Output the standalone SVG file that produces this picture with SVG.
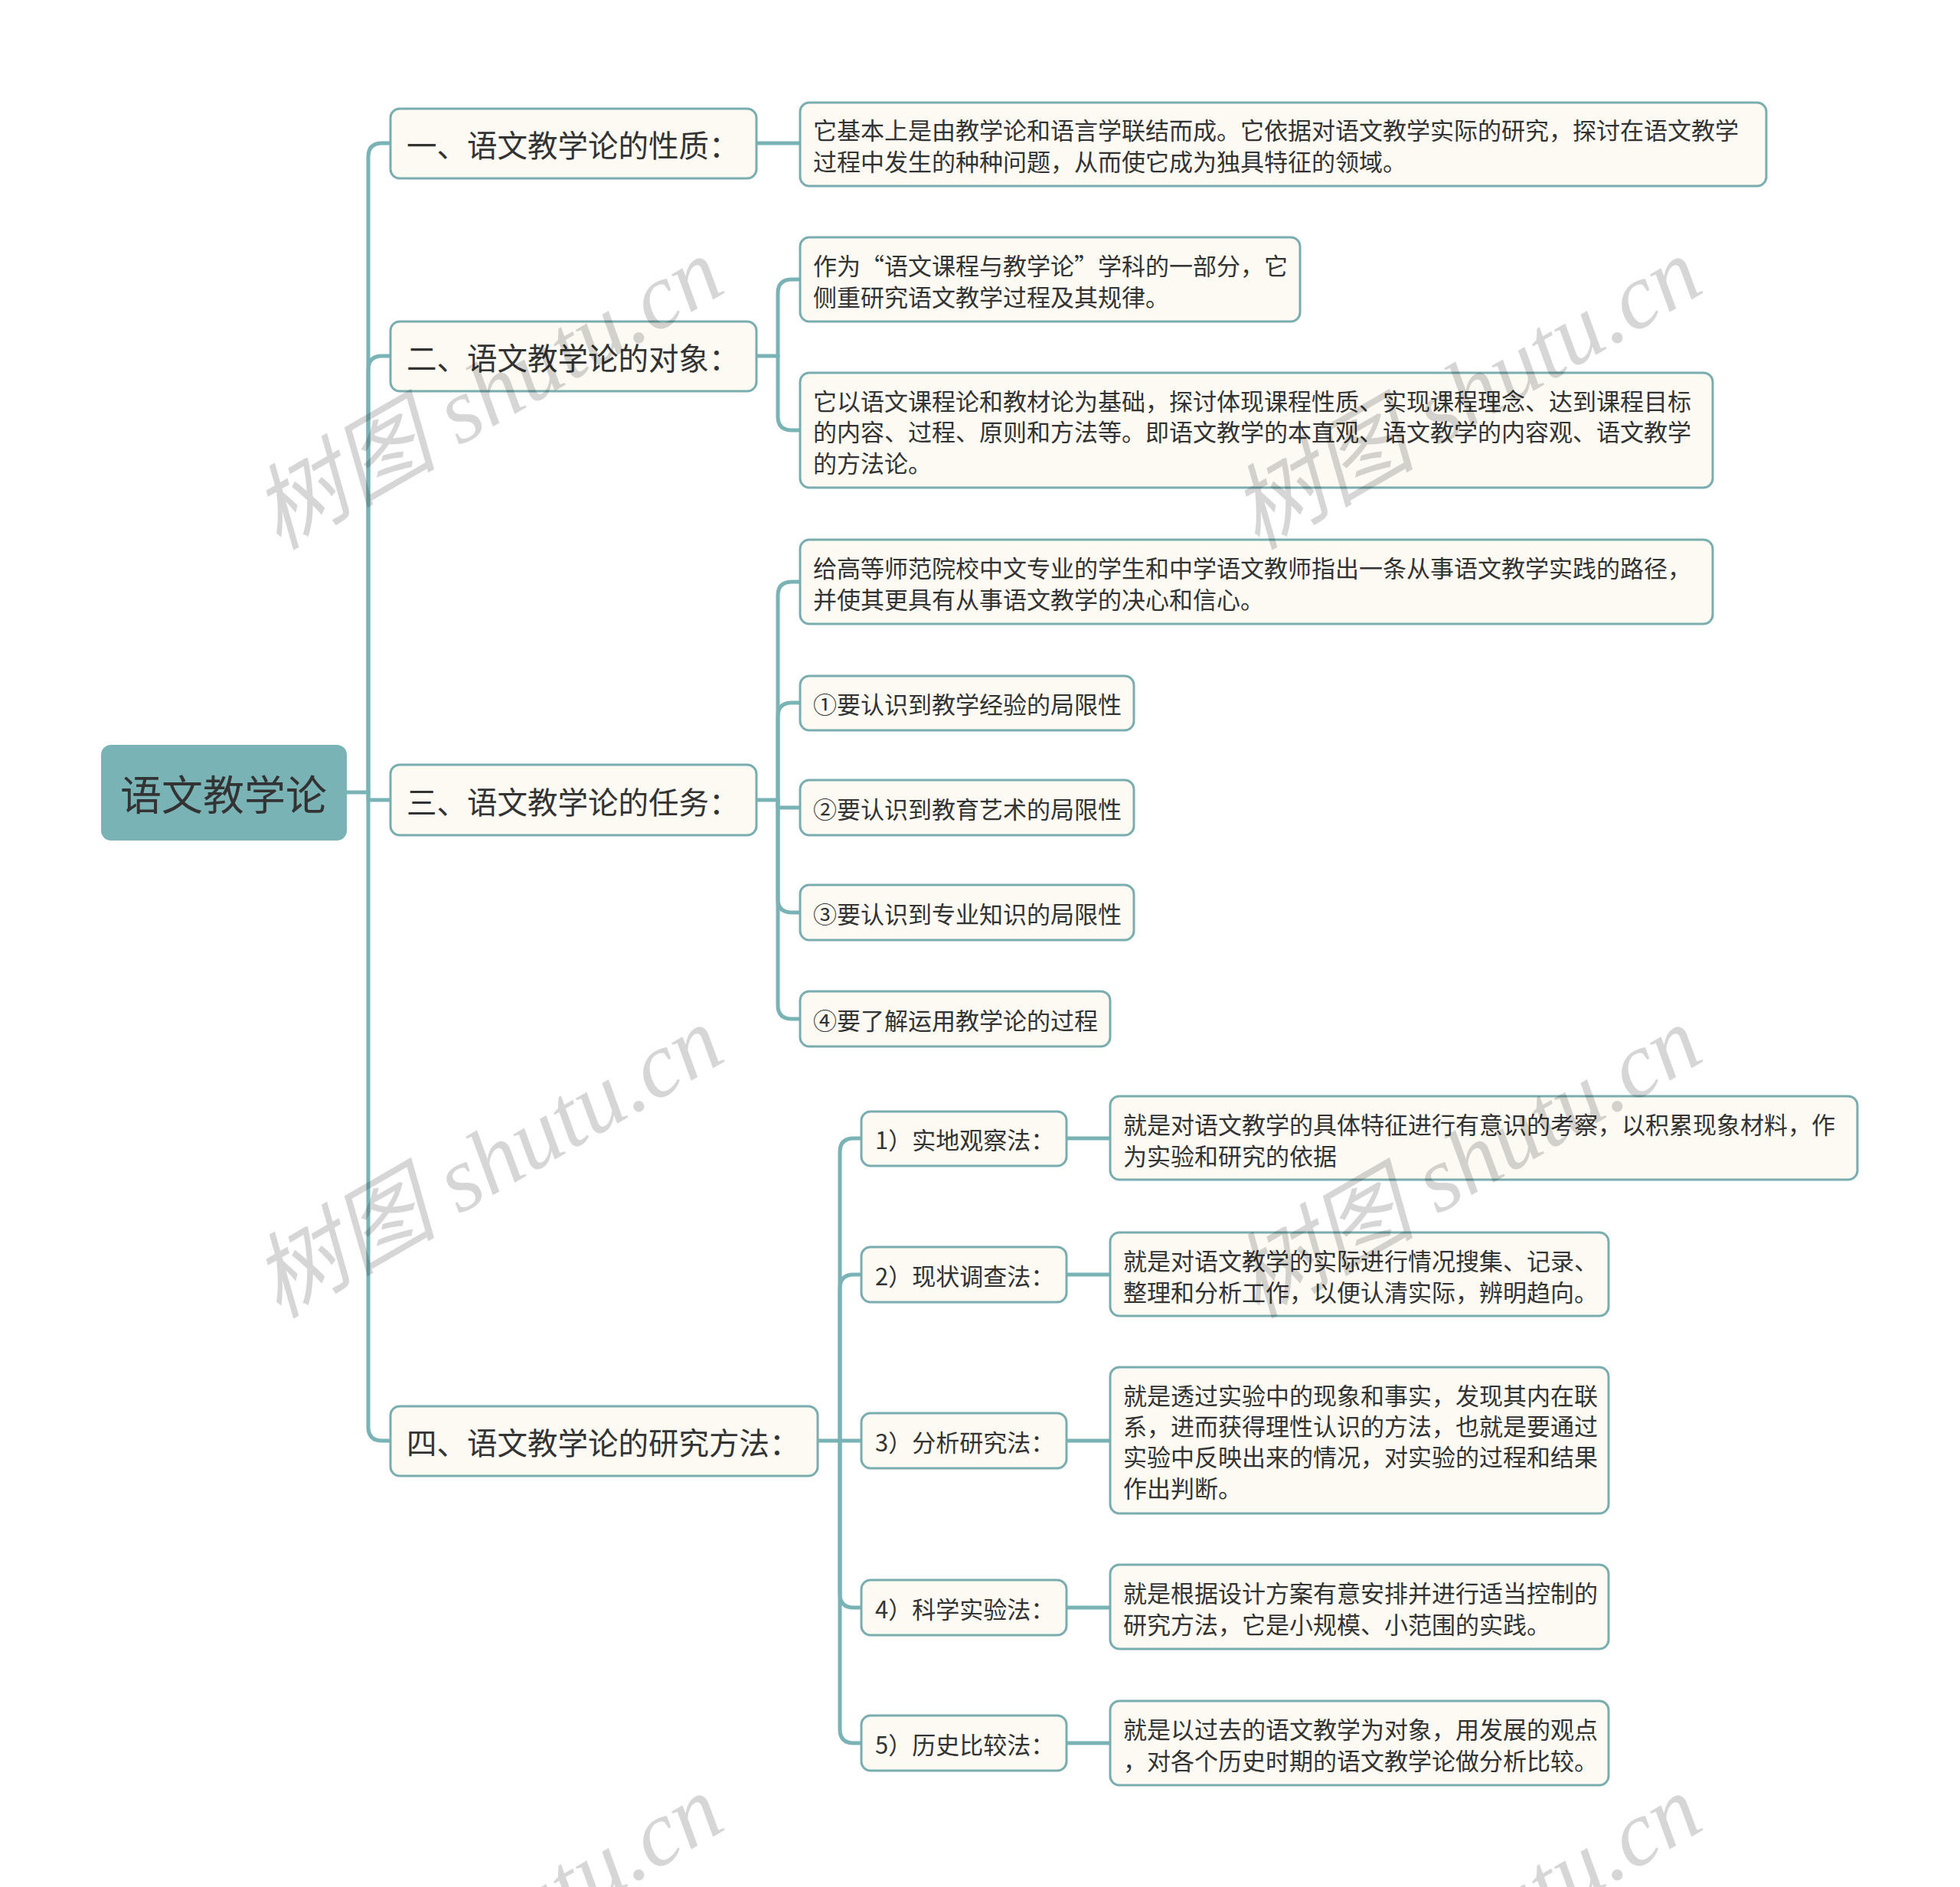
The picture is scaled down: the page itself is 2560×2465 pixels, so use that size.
<svg xmlns="http://www.w3.org/2000/svg" width="2560" height="2465" viewBox="0 0 2560 2465">
<style>
.bx{fill:#fcfaf2;stroke:#7aadb0;stroke-width:3}
.root{fill:#7ab3b5}
.t{font-family:"Noto Sans CJK SC","Noto Sans",sans-serif;fill:#333;dominant-baseline:central}
.t1{font-size:39.5px}
.t2{font-size:31px}
.tr{font-size:54px;text-anchor:middle}
.c{fill:none;stroke:#7ab3b5;stroke-width:5;stroke-linecap:round;stroke-linejoin:round}
.wm{font-family:"Liberation Serif","Noto Sans CJK SC",serif;font-style:italic;font-size:121px;fill:#000;fill-opacity:0.16;text-anchor:middle;dominant-baseline:central}
</style>
<rect width="2560" height="2465" fill="#fff"/>
<g id="connectors">
<path class="c" d="M453 1035 H481"/>
<path class="c" d="M481 1035 V205 Q481 187 499 187 H510"/>
<path class="c" d="M481 1035 V483 Q481 465 499 465 H510"/>
<path class="c" d="M481 1035 V1045 H510"/>
<path class="c" d="M481 1035 V1864 Q481 1882 499 1882 H510"/>
<path class="c" d="M988 187 H1045"/>
<path class="c" d="M988 465 H1016"/>
<path class="c" d="M1016 465 V383 Q1016 365 1034 365 H1045"/>
<path class="c" d="M1016 465 V544 Q1016 562 1034 562 H1045"/>
<path class="c" d="M988 1045 H1016"/>
<path class="c" d="M1016 1045 V778 Q1016 760 1034 760 H1045"/>
<path class="c" d="M1016 1045 V936 Q1016 918 1034 918 H1045"/>
<path class="c" d="M1016 1045 V1055 H1045"/>
<path class="c" d="M1016 1045 V1174 Q1016 1192 1034 1192 H1045"/>
<path class="c" d="M1016 1045 V1313 Q1016 1331 1034 1331 H1045"/>
<path class="c" d="M1068 1882 H1097"/>
<path class="c" d="M1097 1882 V1505 Q1097 1487 1115 1487 H1125"/>
<path class="c" d="M1097 1882 V1683 Q1097 1665 1115 1665 H1125"/>
<path class="c" d="M1097 1882 H1125"/>
<path class="c" d="M1097 1882 V2082 Q1097 2100 1115 2100 H1125"/>
<path class="c" d="M1097 1882 V2259 Q1097 2277 1115 2277 H1125"/>
<path class="c" d="M1393 1487 H1450"/>
<path class="c" d="M1393 1665 H1450"/>
<path class="c" d="M1393 1882 H1450"/>
<path class="c" d="M1393 2100 H1450"/>
<path class="c" d="M1393 2277 H1450"/>
</g>
<g id="root">
<rect class="root" x="132" y="973" width="321" height="125" rx="13"/>
<text class="t tr" x="292" y="1035">语文教学论</text>
</g>
<g id="n1">
<rect class="bx" x="510" y="142" width="478" height="91" rx="12"/>
<text class="t t1" x="531" y="187">一、语文教学论的性质：</text>
</g>
<g id="n1a">
<rect class="bx" x="1045" y="134" width="1262" height="109" rx="12"/>
<text class="t t2" x="1062" y="168">它基本上是由教学论和语言学联结而成。它依据对语文教学实际的研究，探讨在语文教学</text>
<text class="t t2" x="1062" y="209">过程中发生的种种问题，从而使它成为独具特征的领域。</text>
</g>
<g id="n2">
<rect class="bx" x="510" y="420" width="478" height="91" rx="12"/>
<text class="t t1" x="531" y="465">二、语文教学论的对象：</text>
</g>
<g id="n2a">
<rect class="bx" x="1045" y="310" width="653" height="110" rx="12"/>
<text class="t t2" x="1062" y="345">作为“语文课程与教学论”学科的一部分，它</text>
<text class="t t2" x="1062" y="386">侧重研究语文教学过程及其规律。</text>
</g>
<g id="n2b">
<rect class="bx" x="1045" y="487" width="1192" height="150" rx="12"/>
<text class="t t2" x="1062" y="522">它以语文课程论和教材论为基础，探讨体现课程性质、实现课程理念、达到课程目标</text>
<text class="t t2" x="1062" y="562">的内容、过程、原则和方法等。即语文教学的本直观、语文教学的内容观、语文教学</text>
<text class="t t2" x="1062" y="603">的方法论。</text>
</g>
<g id="n3">
<rect class="bx" x="510" y="999" width="478" height="92" rx="12"/>
<text class="t t1" x="531" y="1045">三、语文教学论的任务：</text>
</g>
<g id="n3a">
<rect class="bx" x="1045" y="705" width="1192" height="110" rx="12"/>
<text class="t t2" x="1062" y="740">给高等师范院校中文专业的学生和中学语文教师指出一条从事语文教学实践的路径，</text>
<text class="t t2" x="1062" y="781">并使其更具有从事语文教学的决心和信心。</text>
</g>
<g id="n3b">
<rect class="bx" x="1045" y="883" width="436" height="71" rx="12"/>
<text class="t t2" x="1062" y="918">①要认识到教学经验的局限性</text>
</g>
<g id="n3c">
<rect class="bx" x="1045" y="1019" width="436" height="72" rx="12"/>
<text class="t t2" x="1062" y="1055">②要认识到教育艺术的局限性</text>
</g>
<g id="n3d">
<rect class="bx" x="1045" y="1156" width="436" height="72" rx="12"/>
<text class="t t2" x="1062" y="1192">③要认识到专业知识的局限性</text>
</g>
<g id="n3e">
<rect class="bx" x="1045" y="1295" width="405" height="72" rx="12"/>
<text class="t t2" x="1062" y="1331">④要了解运用教学论的过程</text>
</g>
<g id="n4">
<rect class="bx" x="510" y="1837" width="558" height="91" rx="12"/>
<text class="t t1" x="531" y="1882">四、语文教学论的研究方法：</text>
</g>
<g id="m1">
<rect class="bx" x="1125" y="1452" width="268" height="71" rx="12"/>
<text class="t t2" x="1143" y="1487">1）实地观察法：</text>
</g>
<g id="m1a">
<rect class="bx" x="1450" y="1432" width="976" height="109" rx="12"/>
<text class="t t2" x="1467" y="1467">就是对语文教学的具体特征进行有意识的考察，以积累现象材料，作</text>
<text class="t t2" x="1467" y="1508">为实验和研究的依据</text>
</g>
<g id="m2">
<rect class="bx" x="1125" y="1629" width="268" height="72" rx="12"/>
<text class="t t2" x="1143" y="1665">2）现状调查法：</text>
</g>
<g id="m2a">
<rect class="bx" x="1450" y="1610" width="651" height="109" rx="12"/>
<text class="t t2" x="1467" y="1645">就是对语文教学的实际进行情况搜集、记录、</text>
<text class="t t2" x="1467" y="1686">整理和分析工作，以便认清实际，辨明趋向。</text>
</g>
<g id="m3">
<rect class="bx" x="1125" y="1846" width="268" height="72" rx="12"/>
<text class="t t2" x="1143" y="1882">3）分析研究法：</text>
</g>
<g id="m3a">
<rect class="bx" x="1450" y="1786" width="651" height="191" rx="12"/>
<text class="t t2" x="1467" y="1821">就是透过实验中的现象和事实，发现其内在联</text>
<text class="t t2" x="1467" y="1861">系，进而获得理性认识的方法，也就是要通过</text>
<text class="t t2" x="1467" y="1901">实验中反映出来的情况，对实验的过程和结果</text>
<text class="t t2" x="1467" y="1942">作出判断。</text>
</g>
<g id="m4">
<rect class="bx" x="1125" y="2064" width="268" height="72" rx="12"/>
<text class="t t2" x="1143" y="2100">4）科学实验法：</text>
</g>
<g id="m4a">
<rect class="bx" x="1450" y="2044" width="651" height="110" rx="12"/>
<text class="t t2" x="1467" y="2079">就是根据设计方案有意安排并进行适当控制的</text>
<text class="t t2" x="1467" y="2120">研究方法，它是小规模、小范围的实践。</text>
</g>
<g id="m5">
<rect class="bx" x="1125" y="2241" width="268" height="72" rx="12"/>
<text class="t t2" x="1143" y="2277">5）历史比较法：</text>
</g>
<g id="m5a">
<rect class="bx" x="1450" y="2222" width="651" height="110" rx="12"/>
<text class="t t2" x="1467" y="2257">就是以过去的语文教学为对象，用发展的观点</text>
<text class="t t2" x="1467" y="2298">，对各个历史时期的语文教学论做分析比较。</text>
</g>
<g id="watermark">
<text class="wm" transform="translate(637 514) rotate(-30)">树图 shutu.cn</text>
<text class="wm" transform="translate(1915 514) rotate(-30)">树图 shutu.cn</text>
<text class="wm" transform="translate(637 1518) rotate(-30)">树图 shutu.cn</text>
<text class="wm" transform="translate(1915 1518) rotate(-30)">树图 shutu.cn</text>
<text class="wm" transform="translate(637 2522) rotate(-30)">树图 shutu.cn</text>
<text class="wm" transform="translate(1915 2522) rotate(-30)">树图 shutu.cn</text>
</g>
</svg>
